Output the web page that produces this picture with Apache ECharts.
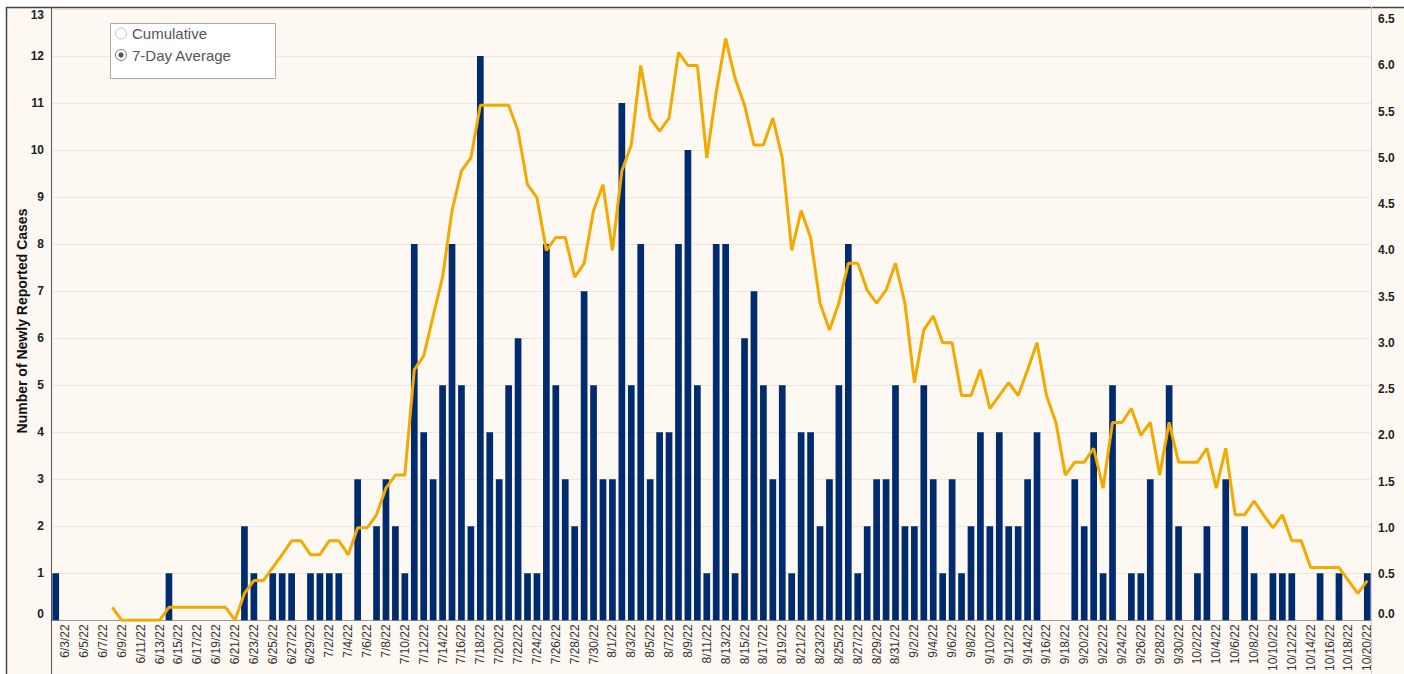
<!DOCTYPE html>
<html>
<head>
<meta charset="utf-8">
<style>
  html, body { margin: 0; padding: 0; background: #ffffff; }
  #chart { width: 1404px; height: 674px; }
</style>
<script src="https://cdn.jsdelivr.net/npm/echarts@6/dist/echarts.min.js"></script>
</head>
<body>
<div id="chart"></div>
<script>
// ---- data ----
const dates = [
  '6/2/22','6/3/22','6/4/22','6/5/22','6/6/22','6/7/22','6/8/22','6/9/22','6/10/22','6/11/22',
  '6/12/22','6/13/22','6/14/22','6/15/22','6/16/22','6/17/22','6/18/22','6/19/22','6/20/22','6/21/22',
  '6/22/22','6/23/22','6/24/22','6/25/22','6/26/22','6/27/22','6/28/22','6/29/22','6/30/22',
  '7/2/22','7/3/22','7/4/22','7/5/22','7/6/22','7/7/22','7/8/22','7/9/22','7/10/22','7/11/22',
  '7/12/22','7/13/22','7/14/22','7/15/22','7/16/22','7/17/22','7/18/22','7/19/22','7/20/22','7/21/22',
  '7/22/22','7/23/22','7/24/22','7/25/22','7/26/22','7/27/22','7/28/22','7/29/22','7/30/22','7/31/22',
  '8/1/22','8/2/22','8/3/22','8/4/22','8/5/22','8/6/22','8/7/22','8/8/22','8/9/22','8/10/22',
  '8/11/22','8/12/22','8/13/22','8/14/22','8/15/22','8/16/22','8/17/22','8/18/22','8/19/22','8/20/22',
  '8/21/22','8/22/22','8/23/22','8/24/22','8/25/22','8/26/22','8/27/22','8/28/22','8/29/22','8/30/22','8/31/22',
  '9/1/22','9/2/22','9/3/22','9/4/22','9/5/22','9/6/22','9/7/22','9/8/22','9/9/22','9/10/22',
  '9/11/22','9/12/22','9/13/22','9/14/22','9/15/22','9/16/22','9/17/22','9/18/22','9/19/22','9/20/22',
  '9/21/22','9/22/22','9/23/22','9/24/22','9/25/22','9/26/22','9/27/22','9/28/22','9/29/22','9/30/22',
  '10/1/22','10/2/22','10/3/22','10/4/22','10/5/22','10/6/22','10/7/22','10/8/22','10/9/22','10/10/22',
  '10/11/22','10/12/22','10/13/22','10/14/22','10/15/22','10/16/22','10/17/22','10/18/22','10/19/22','10/20/22'
];

const newCases = [
  1,0,0,0,0,0,0,0,0,0,
  0,0,1,0,0,0,0,0,0,0,
  2,1,0,1,1,1,0,1,1,1,
  1,0,3,0,2,3,2,1,8,4,
  3,5,8,5,2,12,4,3,5,6,
  1,1,8,5,3,2,7,5,3,3,
  11,5,8,3,4,4,8,10,5,1,
  8,8,1,6,7,5,3,5,1,4,
  4,2,3,5,8,1,2,3,3,5,
  2,2,5,3,1,3,1,2,4,2,
  4,2,2,3,4,0,0,0,3,2,
  4,1,5,0,1,1,3,0,5,2,
  0,1,2,0,3,0,2,1,0,1,
  1,1,0,0,1,0,1,0,0,1
];

const sevenDayAvg = [
  null,null,null,null,null,null,0.14,0,0,0,
  0,0,0.14,0.14,0.14,0.14,0.14,0.14,0.14,0,
  0.29,0.43,0.43,0.57,0.71,0.86,0.86,0.71,0.71,0.86,
  0.86,0.71,1.0,1.0,1.14,1.43,1.57,1.57,2.71,2.86,
  3.29,3.71,4.43,4.86,5.0,5.57,5.57,5.57,5.57,5.29,
  4.71,4.57,4.0,4.14,4.14,3.71,3.86,4.43,4.71,4.0,
  4.86,5.14,6.0,5.43,5.29,5.43,6.14,6.0,6.0,5.0,
  5.71,6.29,5.86,5.57,5.14,5.14,5.43,5.0,4.0,4.43,
  4.14,3.43,3.14,3.43,3.86,3.86,3.57,3.43,3.57,3.86,
  3.43,2.57,3.14,3.29,3.0,3.0,2.43,2.43,2.71,2.29,
  2.43,2.57,2.43,2.71,3.0,2.43,2.14,1.57,1.71,1.71,
  1.86,1.43,2.14,2.14,2.29,2.0,2.14,1.57,2.14,1.71,
  1.71,1.71,1.86,1.43,1.86,1.14,1.14,1.29,1.14,1.0,
  1.14,0.86,0.86,0.57,0.57,0.57,0.57,0.43,0.29,0.43
];

const yAxisTitle = 'Number of Newly Reported Cases';
const legendItems = ['Cumulative', '7-Day Average'];

// ---- chart ----
const FONT = "'Liberation Sans', Arial, sans-serif";
const chart = echarts.init(document.getElementById('chart'), null, { renderer: 'svg', width: 1404, height: 674 });

const option = {
  animation: false,
  backgroundColor: '#fdf9f2',
  textStyle: { fontFamily: FONT },
  grid: { left: 51, right: 32, top: 9, bottom: 52, containLabel: false },
  xAxis: {
    type: 'category',
    data: dates,
    boundaryGap: true,
    axisLine: { show: true, lineStyle: { color: '#9a9a9a', width: 1 } },
    axisTick: { show: false },
    splitLine: { show: false },
    axisLabel: {
      rotate: 90,
      interval: function (idx) { return idx % 2 === 1; },
      fontSize: 12,
      color: '#333333',
      fontFamily: FONT,
      margin: 4
    }
  },
  yAxis: [
    {
      type: 'value',
      min: 0, max: 13, interval: 1,
      position: 'left',
      axisLine: { show: false },
      axisTick: { show: false },
      splitLine: { show: true, lineStyle: { color: '#ece8e1', width: 1 } },
      axisLabel: {
        fontSize: 12, fontWeight: 'bold', color: '#222222', fontFamily: FONT, margin: 7,
        verticalAlignMaxLabel: 'top', verticalAlignMinLabel: 'bottom'
      }
    },
    {
      type: 'value',
      min: 0, max: 6.61, interval: 0.5,
      position: 'right',
      axisLine: { show: false },
      axisTick: { show: false },
      splitLine: { show: false },
      axisLabel: {
        fontSize: 12, fontWeight: 'bold', color: '#222222', fontFamily: FONT, margin: 6,
        showMaxLabel: false,
        verticalAlignMinLabel: 'bottom',
        formatter: function (v) { return v.toFixed(1); }
      }
    }
  ],
  series: [
    {
      name: 'New Cases',
      type: 'bar',
      data: newCases,
      yAxisIndex: 0,
      barWidth: '71%',
      itemStyle: { color: '#002b6e' },
      z: 2
    },
    {
      name: '7-Day Average',
      type: 'line',
      data: sevenDayAvg,
      yAxisIndex: 1,
      symbol: 'none',
      lineStyle: { color: '#f2a900', width: 3 },
      itemStyle: { color: '#f2a900' },
      z: 3
    }
  ],
  graphic: [
    // white margins outside the frame
    { type: 'rect', z: 100, shape: { x: 0, y: 0, width: 6, height: 674 }, style: { fill: '#ffffff' }, silent: true },
    { type: 'rect', z: 100, shape: { x: 0, y: 0, width: 1404, height: 7 }, style: { fill: '#ffffff' }, silent: true },
    // frame lines
    { type: 'line', z: 100, shape: { x1: 6, y1: 7.5, x2: 1404, y2: 7.5 }, style: { stroke: '#444444', lineWidth: 1.5 }, silent: true },
    { type: 'line', z: 100, shape: { x1: 6.5, y1: 7, x2: 6.5, y2: 674 }, style: { stroke: '#444444', lineWidth: 1.5 }, silent: true },
    // axis lines extending through label area
    { type: 'line', z: 100, shape: { x1: 51.5, y1: 7, x2: 51.5, y2: 674 }, style: { stroke: '#555555', lineWidth: 1 }, silent: true },
    { type: 'line', z: 100, shape: { x1: 1371.5, y1: 7, x2: 1371.5, y2: 674 }, style: { stroke: '#d0d0d0', lineWidth: 1 }, silent: true },
    // y axis title
    {
      type: 'text', z: 100, x: 22, y: 321, rotation: Math.PI / 2,
      style: { text: yAxisTitle, fontSize: 14, fontWeight: 'bold', fill: '#111111', fontFamily: FONT, align: 'center', verticalAlign: 'middle' },
      silent: true
    },
    // legend box
    { type: 'rect', z: 100, shape: { x: 110.5, y: 23.5, width: 165, height: 55 }, style: { fill: '#ffffff', stroke: '#aaaaaa', lineWidth: 1 }, silent: true },
    { type: 'circle', z: 101, shape: { cx: 121, cy: 33.5, r: 5.5 }, style: { fill: '#ffffff', stroke: '#c4c4c4', lineWidth: 1 }, silent: true },
    { type: 'text', z: 101, x: 132, y: 33.5, style: { text: legendItems[0], fontSize: 15, fill: '#555555', fontFamily: FONT, verticalAlign: 'middle', align: 'left' }, silent: true },
    { type: 'circle', z: 101, shape: { cx: 121, cy: 55, r: 5.5 }, style: { fill: '#ffffff', stroke: '#777777', lineWidth: 1 }, silent: true },
    { type: 'circle', z: 102, shape: { cx: 121, cy: 55, r: 2.6 }, style: { fill: '#555555' }, silent: true },
    { type: 'text', z: 101, x: 132, y: 55, style: { text: legendItems[1], fontSize: 15, fill: '#555555', fontFamily: FONT, verticalAlign: 'middle', align: 'left' }, silent: true }
  ]
};

chart.setOption(option);
</script>
</body>
</html>
